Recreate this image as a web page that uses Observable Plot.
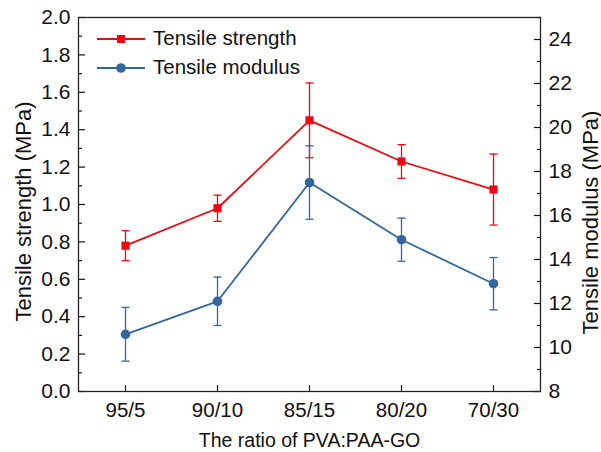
<!DOCTYPE html>
<html><head><meta charset="utf-8">
<script src="https://cdn.jsdelivr.net/npm/d3@7"></script>
<script src="https://cdn.jsdelivr.net/npm/@observablehq/plot@0.6"></script>
<style>
body{margin:0;background:#fff;}
#wrap{position:relative;width:601px;height:452px;font-family:"Liberation Sans",Arial,sans-serif;}
#legend{position:absolute;left:97px;top:24px;font-size:20.5px;color:#111;line-height:1;}
.row{display:flex;align-items:center;height:29px;}
.row svg{margin-right:8px;display:block;}
</style></head><body><div id="wrap"></div>
<script>
const categories = ["95/5", "90/10", "85/15", "80/20", "70/30"];
const strength = [0.78, 0.98, 1.45, 1.23, 1.08];
const strengthErr = [0.08, 0.07, 0.20, 0.09, 0.19];
const modulus = [10.6, 12.1, 17.5, 14.9, 12.9];
const modulusErr = [1.22, 1.10, 1.67, 0.98, 1.19];
const leftTicks = [0, 0.2, 0.4, 0.6, 0.8, 1.0, 1.2, 1.4, 1.6, 1.8, 2.0];
const leftMinor = [0.1, 0.3, 0.5, 0.7, 0.9, 1.1, 1.3, 1.5, 1.7, 1.9];
const rightTicks = [8, 10, 12, 14, 16, 18, 20, 22, 24];
const rightMinor = [9, 11, 13, 15, 17, 19, 21, 23, 25];
const leftDomain = [0, 2];
const rightDomain = [8, 25];
const seriesNames = ["Tensile strength", "Tensile modulus"];
const leftTitle = "Tensile strength (MPa)";
const rightTitle = "Tensile modulus (MPa)";
const xTitle = "The ratio of PVA:PAA-GO";
const red = "#ea0a14";
const blue = "#31679d";

const toLeft = m => leftDomain[0] + (m - rightDomain[0]) / (rightDomain[1] - rightDomain[0]) * (leftDomain[1] - leftDomain[0]);
const fromLeft = s => rightDomain[0] + (s - leftDomain[0]) / (leftDomain[1] - leftDomain[0]) * (rightDomain[1] - rightDomain[0]);

const rows = categories.map((c, i) => ({
  c,
  s: strength[i], sLo: strength[i] - strengthErr[i], sHi: strength[i] + strengthErr[i],
  m: toLeft(modulus[i]), mLo: toLeft(modulus[i] - modulusErr[i]), mHi: toLeft(modulus[i] + modulusErr[i])
}));

const font = "Liberation Sans, Arial, sans-serif";
const ink = "#111";
const capSymbol = {draw(context) { context.moveTo(-4, 0); context.lineTo(4, 0); }};

const chart = Plot.plot({
  width: 601, height: 452,
  marginLeft: 78, marginRight: 61, marginTop: 17, marginBottom: 61,
  style: {fontFamily: font, color: ink, background: "white", overflow: "visible"},
  x: {type: "point", domain: categories, padding: 0.5, axis: null},
  y: {domain: leftDomain, axis: null},
  marks: [
    // left axis
    Plot.axisY({ticks: leftTicks, tickFormat: d3.format(".1f"), tickSize: 0, tickPadding: 8, fontSize: 21, label: null}),
    Plot.axisY({ticks: leftTicks, tickSize: -7, fill: "none", label: null, stroke: ink, strokeWidth: 1.2}),
    Plot.axisY({ticks: leftMinor, tickSize: -4, fill: "none", label: null, stroke: ink, strokeWidth: 1.2}),
    Plot.text([leftTitle], {text: d => d, frameAnchor: "left", textAnchor: "middle", rotate: -90, lineAnchor: "top", dx: -63, dy: 7, fontSize: 22, fill: ink}),
    // right axis
    Plot.axisY({anchor: "right", ticks: rightTicks.map(toLeft), tickFormat: d => String(Math.round(fromLeft(d))), tickSize: 0, tickPadding: 8, fontSize: 21, label: null}),
    Plot.axisY({anchor: "right", ticks: rightTicks.map(toLeft), tickSize: -7, fill: "none", label: null, stroke: ink, strokeWidth: 1.2}),
    Plot.axisY({anchor: "right", ticks: rightMinor.map(toLeft), tickSize: -4, fill: "none", label: null, stroke: ink, strokeWidth: 1.2}),
    Plot.text([rightTitle], {text: d => d, frameAnchor: "right", textAnchor: "middle", rotate: -90, lineAnchor: "bottom", dx: 57, dy: 18, fontSize: 22, fill: ink}),
    // x axis
    Plot.axisX({tickSize: 0, tickPadding: 11, fontSize: 20.5, label: null}),
    Plot.axisX({ticks: [], tickSize: 0, fontSize: 19.5, label: xTitle, labelAnchor: "center", labelArrow: false, labelOffset: 55}),
    Plot.axisX({tickSize: -6, fill: "none", label: null, stroke: ink, strokeWidth: 1.2}),
    // strength series
    Plot.line(rows, {x: "c", y: "s", stroke: red, strokeWidth: 1.8}),
    Plot.ruleX(rows, {x: "c", y1: "sLo", y2: "sHi", stroke: red, strokeWidth: 1.3}),
    Plot.dot(rows, {x: "c", y: "sLo", symbol: capSymbol, fill: "none", stroke: red, strokeWidth: 1.3}),
    Plot.dot(rows, {x: "c", y: "sHi", symbol: capSymbol, fill: "none", stroke: red, strokeWidth: 1.3}),
    Plot.dot(rows, {x: "c", y: "s", symbol: "square", r: 4.6, fill: red, stroke: "none"}),
    // modulus series
    Plot.line(rows, {x: "c", y: "m", stroke: blue, strokeWidth: 1.8}),
    Plot.ruleX(rows, {x: "c", y1: "mLo", y2: "mHi", stroke: blue, strokeWidth: 1.3}),
    Plot.dot(rows, {x: "c", y: "mLo", symbol: capSymbol, fill: "none", stroke: blue, strokeWidth: 1.3}),
    Plot.dot(rows, {x: "c", y: "mHi", symbol: capSymbol, fill: "none", stroke: blue, strokeWidth: 1.3}),
    Plot.dot(rows, {x: "c", y: "m", symbol: "circle", r: 4.8, fill: blue, stroke: "none"}),
    Plot.frame({stroke: "#222", strokeWidth: 1.3})
  ]
});

const wrap = document.getElementById("wrap");
wrap.appendChild(chart);

const legend = document.createElement("div");
legend.id = "legend";
const swatches = [
  {color: red, marker: `<rect x="20" y="2" width="8" height="8" fill="${red}"/>`},
  {color: blue, marker: `<circle cx="24" cy="6" r="4.8" fill="${blue}"/>`}
];
seriesNames.forEach((name, i) => {
  const row = document.createElement("div");
  row.className = "row";
  row.innerHTML = `<svg width="48" height="12" viewBox="0 0 48 12"><line x1="0" y1="6" x2="48" y2="6" stroke="${swatches[i].color}" stroke-width="1.8"/>${swatches[i].marker}</svg><span>${name}</span>`;
  legend.appendChild(row);
});
wrap.appendChild(legend);
</script>
</body></html>
